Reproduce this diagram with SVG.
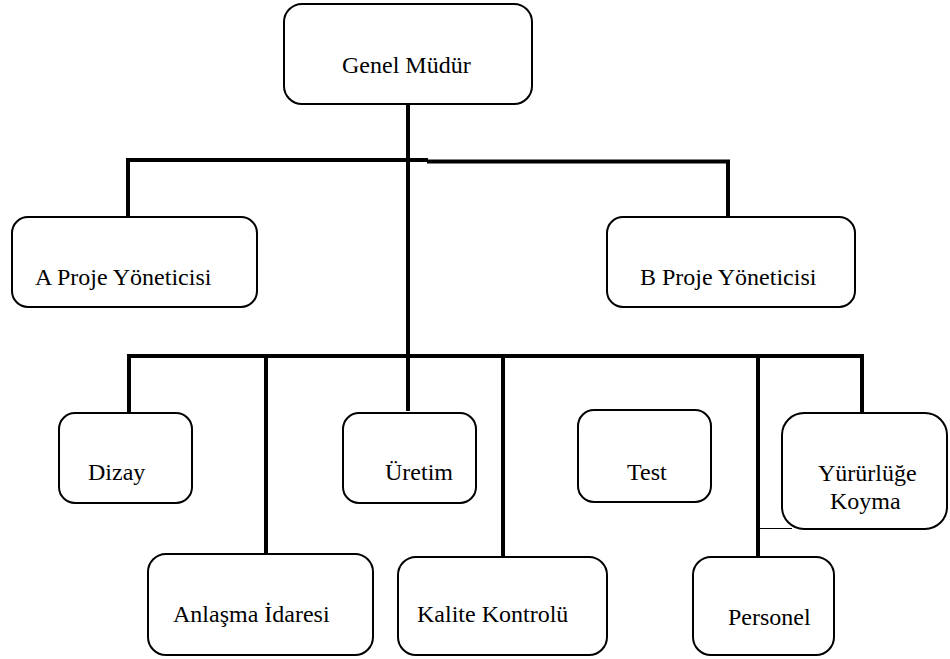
<svg xmlns="http://www.w3.org/2000/svg" width="950" height="659" viewBox="0 0 950 659">
<style>
.box{fill:#fff;stroke:#000;stroke-width:2}
.ln{stroke:#000;stroke-width:4;fill:none}
.thin{stroke:#000;stroke-width:1.2;fill:none}
.t{font-family:'Liberation Serif','Times New Roman',serif;font-size:24px;fill:#000}
</style>
<rect width="950" height="659" fill="#fff"/>
<g id="connectors">
<line class="ln" x1="408" y1="104" x2="408" y2="411"/>
<line class="ln" x1="126" y1="160" x2="428" y2="160"/>
<line class="ln" x1="427" y1="161.5" x2="730" y2="161.5"/>
<line class="ln" x1="128" y1="158" x2="128" y2="217"/>
<line class="ln" x1="728" y1="160" x2="728" y2="217"/>
<line class="ln" x1="127" y1="356" x2="864" y2="356"/>
<line class="ln" x1="129" y1="354" x2="129" y2="412"/>
<line class="ln" x1="266" y1="356" x2="266" y2="554"/>
<line class="ln" x1="503" y1="356" x2="503" y2="556"/>
<line class="ln" x1="758" y1="356" x2="758" y2="557"/>
<line class="ln" x1="862" y1="354" x2="862" y2="413"/>
<line class="thin" x1="758" y1="528.5" x2="792" y2="528.5"/>
</g>
<g id="genel-mudur">
<rect class="box" x="284" y="4" width="248" height="100" rx="18"/>
<text class="t" x="342" y="73">Genel Müdür</text>
</g>
<g id="a-proje">
<rect class="box" x="12" y="217" width="245" height="90" rx="16"/>
<text class="t" x="35" y="285">A Proje Yöneticisi</text>
</g>
<g id="b-proje">
<rect class="box" x="607" y="217" width="248" height="90" rx="16"/>
<text class="t" x="640" y="285">B Proje Yöneticisi</text>
</g>
<g id="dizay">
<rect class="box" x="59" y="413" width="133" height="90" rx="16"/>
<text class="t" x="88" y="480">Dizay</text>
</g>
<g id="uretim">
<rect class="box" x="343" y="413" width="133" height="90" rx="16"/>
<text class="t" x="385" y="480">Üretim</text>
</g>
<g id="test">
<rect class="box" x="578" y="410" width="133" height="92" rx="16"/>
<text class="t" x="627" y="480">Test</text>
</g>
<g id="yururluge-koyma">
<rect class="box" x="782" y="413" width="165" height="116" rx="22"/>
<text class="t" x="818" y="481">Yürürlüğe</text>
<text class="t" x="830" y="509">Koyma</text>
</g>
<g id="anlasma-idaresi">
<rect class="box" x="148" y="554" width="225" height="101" rx="18"/>
<text class="t" x="173" y="622">Anlaşma İdaresi</text>
</g>
<g id="kalite-kontrolu">
<rect class="box" x="398" y="557" width="209" height="98" rx="18"/>
<text class="t" x="417" y="622">Kalite Kontrolü</text>
</g>
<g id="personel">
<rect class="box" x="693" y="557" width="141" height="98" rx="18"/>
<text class="t" x="728" y="625">Personel</text>
</g>
</svg>
